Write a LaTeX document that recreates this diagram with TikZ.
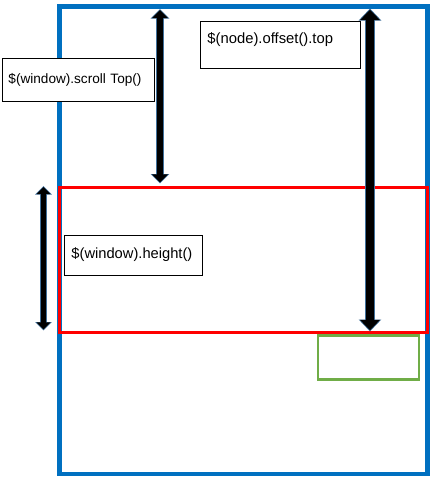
\documentclass[tikz,border=0pt]{standalone}
\usepackage{fontspec}
\setmainfont{Liberation Sans}
\usetikzlibrary{arrows.meta}
\definecolor{frameblue}{HTML}{0070C0}
\definecolor{viewred}{HTML}{FF0000}
\definecolor{nodegreen}{HTML}{70AD47}
\definecolor{arrowedge}{HTML}{41719C}
\tikzset{
  labelbox/.style={draw=black, line width=0.9pt, fill=white, anchor=north west,
    inner xsep=6.5pt, inner ysep=0pt, text height=10pt, text depth=3pt, align=left},
  dimout/.style={draw=arrowedge, line width=#1},
  diminn/.style={draw=black, line width=#1, shorten >=1.2pt, shorten <=1.2pt},
}
\begin{document}
\begin{tikzpicture}[x=1pt,y=-1pt]
\useasboundingbox (0,0) rectangle (437,482);
% window/document frames
\draw[frameblue, line width=4.5pt] (59.5,6.5) rectangle (427.5,474);
\draw[viewred, line width=3pt] (59.2,187.3) rectangle (427.2,332);
\draw[nodegreen, line width=2.6pt] (318,335.5) rectangle (419,379.5);
% arrow end points
\coordinate (a1t) at (160,9);
\coordinate (a1b) at (160,183.5);
\coordinate (a2t) at (370,8.5);
\coordinate (a2b) at (370,331.5);
\coordinate (a3t) at (43.5,186);
\coordinate (a3b) at (43.5,330.5);
% scrollTop arrow
\draw[dimout=8pt, {Triangle[width=18pt,length=9.5pt]}-{Triangle[width=18pt,length=9.5pt]}] (a1t) -- (a1b);
\draw[diminn=6pt, {Triangle[width=15.5pt,length=8pt]}-{Triangle[width=15.5pt,length=8pt]}] (a1t) -- (a1b);
% offset().top arrow
\draw[dimout=10.5pt, {Triangle[width=22pt,length=12pt]}-{Triangle[width=22pt,length=12pt]}] (a2t) -- (a2b);
\draw[diminn=8.5pt, {Triangle[width=19.5pt,length=10.5pt]}-{Triangle[width=19.5pt,length=10.5pt]}] (a2t) -- (a2b);
% height arrow
\draw[dimout=6.5pt, {Triangle[width=16pt,length=8.5pt]}-{Triangle[width=16pt,length=8.5pt]}] (a3t) -- (a3b);
\draw[diminn=4.5pt, {Triangle[width=13.5pt,length=7pt]}-{Triangle[width=13.5pt,length=7pt]}] (a3t) -- (a3b);
% labels
\node[labelbox, minimum width=152pt, minimum height=43pt, text width=139pt,
  font=\fontsize{13.6pt}{16pt}\selectfont] (scroll) at (1.5,58) {\$(window).scroll Top()};
\node[labelbox, minimum width=159pt, minimum height=47pt, text width=146pt, text depth=13pt,
  inner xsep=7pt, font=\fontsize{14.8pt}{17pt}\selectfont] (offset) at (200,21) {\$(node).offset().top};
\node[labelbox, minimum width=138pt, minimum height=40pt, text width=124pt,
  inner xsep=7pt, font=\fontsize{14.7pt}{17pt}\selectfont] (height) at (64,235) {\$(window).height()};
\end{tikzpicture}
\end{document}
